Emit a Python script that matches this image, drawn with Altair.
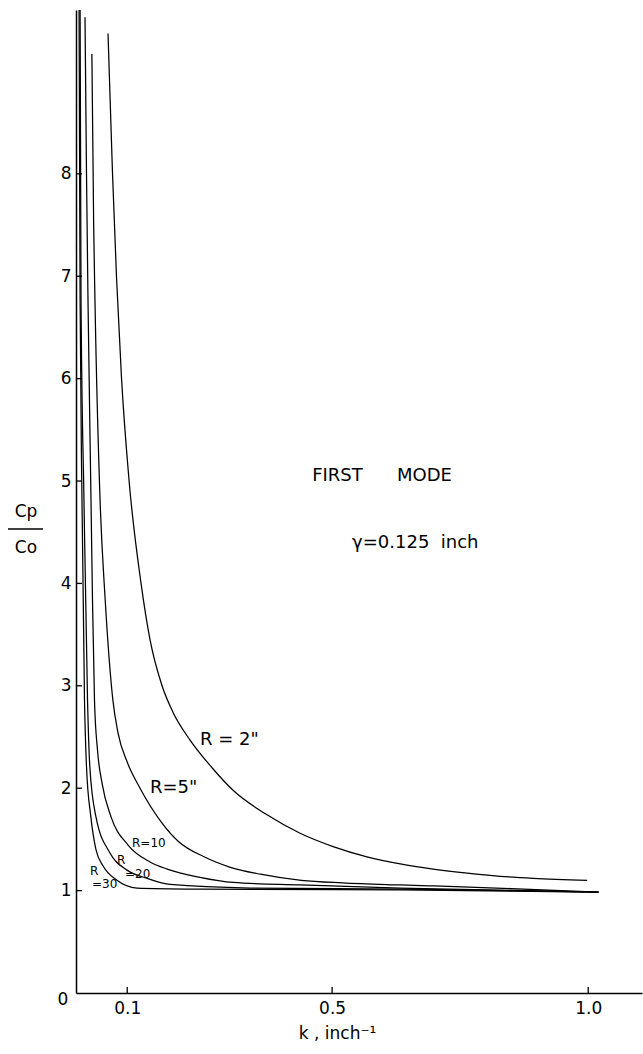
import altair as alt
import pandas as pd

# ---- curve data (k in inch^-1, Cp/Co) ----
k_R2 = [0.0625, 0.0713, 0.0791, 0.0889, 0.1035, 0.127, 0.1445, 0.168, 0.1895, 0.2227,
        0.2656, 0.3066, 0.373, 0.4375, 0.502, 0.568, 0.633, 0.697, 0.764, 0.828,
        0.893, 0.998]
y_R2 = [9.37, 8.0, 6.99, 6.0, 5.01, 4.0, 3.45, 3.0, 2.74, 2.47,
        2.20, 1.98, 1.74, 1.56, 1.43, 1.33, 1.26, 1.21, 1.17, 1.14,
        1.12, 1.10]

k_R5 = [0.031, 0.0345, 0.037, 0.047, 0.057, 0.072, 0.082, 0.0996, 0.125, 0.168,
        0.20, 0.25, 0.30, 0.36, 0.44, 0.52, 0.633, 0.70, 0.85, 1.02]
y_R5 = [9.17, 7.5, 6.77, 4.81, 3.84, 2.86, 2.54, 2.26, 2.0, 1.66,
        1.48, 1.33, 1.23, 1.16, 1.10, 1.075, 1.055, 1.045, 1.02, 0.985]

k_R10 = [0.0176, 0.0205, 0.0234, 0.0293, 0.0322, 0.0361, 0.042, 0.0508, 0.0684, 0.1016,
         0.1445, 0.178, 0.242, 0.307, 0.4375, 0.633, 1.02]
y_R10 = [9.53, 8.0, 6.77, 4.81, 3.84, 2.86, 2.37, 2.05, 1.72, 1.445,
         1.28, 1.21, 1.13, 1.08, 1.055, 1.025, 0.986]

k_R20 = [0.008, 0.0098, 0.0156, 0.0225, 0.027, 0.039, 0.066, 0.0996, 0.139, 0.184,
         0.34, 0.633, 1.02]
y_R20 = [9.6, 6.77, 4.81, 2.86, 2.21, 1.72, 1.37, 1.20, 1.12, 1.06,
         1.025, 1.015, 0.986]

k_R30 = [0.006, 0.008, 0.0117, 0.0166, 0.0205, 0.029, 0.039, 0.053, 0.080, 0.119,
         0.242, 0.633, 1.02]
y_R30 = [9.6, 6.77, 4.81, 2.86, 2.21, 1.72, 1.40, 1.24, 1.10, 1.025,
         1.015, 1.006, 0.986]

R_names = ["2", "5", "10", "20", "30"]

x_tick_values = [0.1, 0.5, 1.0]
y_tick_values = [1, 2, 3, 4, 5, 6, 7, 8]

NB = "\u00a0"
big_text = ["FIRST" + NB * 6 + "MODE", "\u03b3=0.125" + NB * 2 + "inch",
            "R" + NB + "=" + NB + '2"', 'R=5"']
small_text = ["R=10", "R", "=20", "R", "=30"]

# ---- build tables ----
rows = []
for name, ks, ysr in zip(R_names, [k_R2, k_R5, k_R10, k_R20, k_R30],
                         [y_R2, y_R5, y_R10, y_R20, y_R30]):
    for kk, yy in zip(ks, ysr):
        rows.append({"R": name, "k": kk, "y": yy})
curves = pd.DataFrame(rows)

# annotation placement (layout, in data coordinates)
big_pos_k = [0.461, 0.539, 0.242, 0.1445]
big_pos_y = [5.05, 4.39, 2.47, 2.0]
small_pos_k = [0.1094, 0.080, 0.0957, 0.0273, 0.0313]
small_pos_y = [1.465, 1.30, 1.16, 1.195, 1.06]

big_df = pd.DataFrame({"k": big_pos_k, "y": big_pos_y, "t": big_text})
small_df = pd.DataFrame({"k": small_pos_k, "y": small_pos_y, "t": small_text})
ytick_df = pd.DataFrame({"y": y_tick_values})
xtick_df = pd.DataFrame({"k": x_tick_values})

FONT = "DejaVu Sans"
xs = alt.Scale(domain=[0, 1.105], nice=False, zero=False)
ys = alt.Scale(domain=[0, 9.6], nice=False)

x_axis = alt.Axis(
    values=x_tick_values, format=".1f", ticks=False, grid=False,
    domainColor="black", domainWidth=1.5,
    labelFont=FONT, labelFontSize=17, labelColor="black", labelPadding=7,
    title="k , inch\u207b\u00b9", titleFont=FONT, titleFontSize=17,
    titleFontWeight="normal", titleColor="black",
    titleX=261, titleY=40, titleBaseline="middle")
y_axis = alt.Axis(
    values=y_tick_values, ticks=False, grid=False,
    domainColor="black", domainWidth=1.5,
    labelFont=FONT, labelFontSize=17, labelColor="black", labelPadding=5,
    title="")


def X():
    return alt.X("k:Q", scale=xs, axis=x_axis)


def Y():
    return alt.Y("y:Q", scale=ys, axis=y_axis)


lines = alt.Chart(curves).mark_line(
    color="black", strokeWidth=1.25, interpolate="monotone"
).encode(x=X(), y=Y(), detail="R:N")

yticks = alt.Chart(ytick_df).mark_rule(color="black", strokeWidth=1.3).encode(
    y=Y(), x=alt.value(0), x2=alt.value(6))
xticks = alt.Chart(xtick_df).mark_rule(color="black", strokeWidth=1.3).encode(
    x=X(), y=alt.value(983), y2=alt.value(977))

big = alt.Chart(big_df).mark_text(
    font=FONT, fontSize=18, align="left", baseline="middle", color="black"
).encode(x=X(), y=Y(), text="t:N")

small = alt.Chart(small_df).mark_text(
    font=FONT, fontSize=12, align="left", baseline="middle", color="black"
).encode(x=X(), y=Y(), text="t:N")

zero = alt.Chart(pd.DataFrame({"t": ["0"]})).mark_text(
    font=FONT, fontSize=17, align="center", baseline="middle", color="black"
).encode(x=alt.value(-13), y=alt.value(990), text="t:N")

cp = alt.Chart(pd.DataFrame({"t": ["Cp"]})).mark_text(
    font=FONT, fontSize=17, align="center", baseline="middle", color="black"
).encode(x=alt.value(-50), y=alt.value(502), text="t:N")
co = alt.Chart(pd.DataFrame({"t": ["Co"]})).mark_text(
    font=FONT, fontSize=17, align="center", baseline="middle", color="black"
).encode(x=alt.value(-50), y=alt.value(538), text="t:N")
frac = alt.Chart(pd.DataFrame({"t": [1]})).mark_rule(color="black", strokeWidth=1.3).encode(
    x=alt.value(-68), x2=alt.value(-33), y=alt.value(519))

chart = alt.layer(lines, yticks, xticks, big, small, zero, cp, co, frac).properties(
    width=566, height=983,
    autosize=alt.AutoSizeParams(type="none"),
    padding={"left": 76, "top": 10, "right": 1, "bottom": 61},
    background="white",
).configure_view(strokeWidth=0, stroke="transparent")

chart.save("out.html", embed_options={"renderer": "svg", "actions": False})
